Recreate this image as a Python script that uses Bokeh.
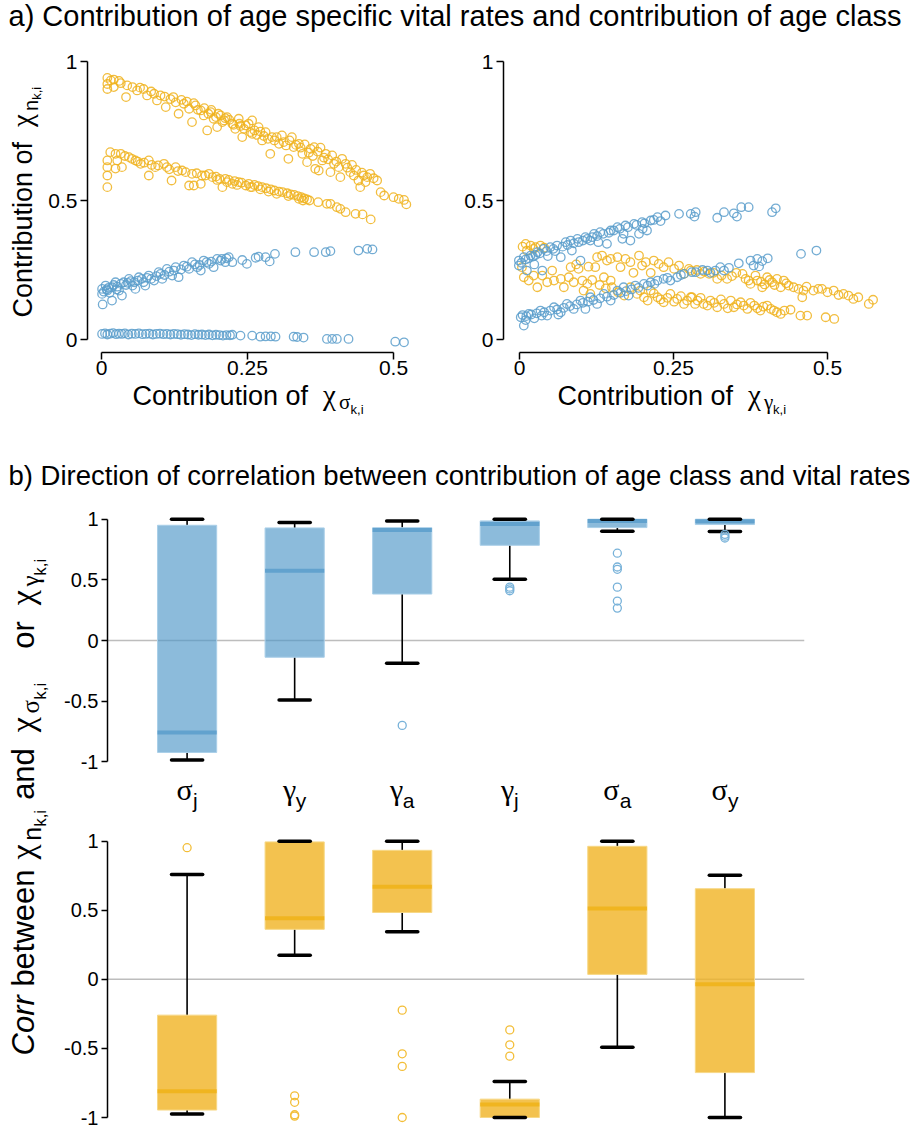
import math
from bokeh.plotting import figure
from bokeh.models import Range1d, FixedTicker, Label
from bokeh.layouts import column, row
from bokeh.embed import file_html
from bokeh.resources import INLINE

# ---------------------------------------------------------------------------
# Panel a: contribution of each vital rate (x) vs contribution of age class (y)
# ---------------------------------------------------------------------------
sigma_gold_upper = [
    (0.010, 0.941), (0.021, 0.935), (0.010, 0.919), (0.010, 0.901), (0.033, 0.922), (0.021, 0.908),
    (0.044, 0.914), (0.053, 0.908), (0.042, 0.872), (0.061, 0.896), (0.072, 0.901), (0.078, 0.878),
    (0.090, 0.884), (0.101, 0.878), (0.110, 0.836), (0.095, 0.860), (0.118, 0.865), (0.127, 0.853),
    (0.132, 0.812), (0.141, 0.848), (0.150, 0.830), (0.155, 0.782), (0.161, 0.842), (0.170, 0.824),
    (0.175, 0.806), (0.181, 0.752), (0.187, 0.818), (0.192, 0.794), (0.198, 0.764), (0.204, 0.806),
    (0.210, 0.788), (0.215, 0.800), (0.224, 0.776), (0.229, 0.758), (0.235, 0.794), (0.241, 0.728),
    (0.247, 0.770), (0.255, 0.746), (0.258, 0.788), (0.252, 0.776), (0.258, 0.740), (0.269, 0.764),
    (0.275, 0.716), (0.281, 0.746), (0.289, 0.668), (0.292, 0.728), (0.304, 0.704), (0.309, 0.734),
    (0.320, 0.650), (0.326, 0.728), (0.329, 0.692), (0.338, 0.704), (0.344, 0.668), (0.352, 0.638),
    (0.358, 0.686), (0.364, 0.692), (0.366, 0.614), (0.372, 0.608), (0.378, 0.644), (0.384, 0.668),
    (0.392, 0.602), (0.398, 0.632), (0.406, 0.620), (0.409, 0.584), (0.418, 0.632), (0.426, 0.602),
    (0.432, 0.590), (0.440, 0.572), (0.443, 0.548), (0.449, 0.590), (0.452, 0.566), (0.472, 0.572),
    (0.478, 0.530), (0.484, 0.518), (0.500, 0.512), (0.509, 0.506), (0.518, 0.502), (0.522, 0.486),
    (0.165, 0.826), (0.183, 0.812), (0.196, 0.800), (0.207, 0.782), (0.219, 0.790), (0.226, 0.772),
    (0.238, 0.768), (0.244, 0.758), (0.262, 0.752), (0.266, 0.736), (0.272, 0.748), (0.278, 0.732),
    (0.285, 0.722), (0.296, 0.716), (0.300, 0.728), (0.312, 0.710), (0.316, 0.698), (0.322, 0.716),
    (0.333, 0.700), (0.341, 0.690), (0.348, 0.702), (0.355, 0.672), (0.362, 0.660), (0.370, 0.676),
    (0.375, 0.690), (0.381, 0.654), (0.388, 0.648), (0.395, 0.662), (0.402, 0.640), (0.412, 0.650),
    (0.421, 0.618), (0.429, 0.628), (0.436, 0.610), (0.446, 0.600), (0.455, 0.584), (0.460, 0.596),
    (0.466, 0.580), (0.236, 0.776), (0.212, 0.796), (0.200, 0.812), (0.188, 0.826), (0.176, 0.832),
    (0.158, 0.850), (0.146, 0.856), (0.137, 0.862), (0.123, 0.872), (0.108, 0.874), (0.085, 0.892),
    (0.066, 0.906), (0.030, 0.930), (0.016, 0.932),
]

sigma_gold_lower = [
    (0.015, 0.674), (0.010, 0.644), (0.010, 0.620), (0.010, 0.590), (0.010, 0.548), (0.024, 0.668),
    (0.033, 0.668), (0.027, 0.644), (0.035, 0.620), (0.024, 0.615), (0.047, 0.656), (0.058, 0.644),
    (0.067, 0.632), (0.081, 0.644), (0.081, 0.590), (0.092, 0.620), (0.107, 0.632), (0.120, 0.572),
    (0.112, 0.620), (0.127, 0.620), (0.138, 0.608), (0.150, 0.554), (0.158, 0.554), (0.155, 0.596),
    (0.170, 0.560), (0.172, 0.590), (0.184, 0.596), (0.190, 0.584), (0.207, 0.548), (0.212, 0.578),
    (0.224, 0.560), (0.235, 0.566), (0.247, 0.554), (0.258, 0.548), (0.040, 0.660), (0.052, 0.650),
    (0.062, 0.640), (0.073, 0.636), (0.086, 0.628), (0.097, 0.626), (0.116, 0.612), (0.131, 0.606),
    (0.144, 0.602), (0.163, 0.598), (0.178, 0.590), (0.196, 0.586), (0.202, 0.578), (0.218, 0.574),
    (0.228, 0.570), (0.240, 0.564), (0.252, 0.560), (0.262, 0.556), (0.268, 0.552), (0.275, 0.548),
    (0.282, 0.544), (0.290, 0.540), (0.296, 0.536), (0.304, 0.532), (0.310, 0.530), (0.318, 0.526),
    (0.324, 0.522), (0.330, 0.520), (0.336, 0.516), (0.342, 0.512), (0.347, 0.508), (0.352, 0.504),
    (0.356, 0.500), (0.300, 0.524), (0.286, 0.532), (0.272, 0.540), (0.255, 0.548), (0.232, 0.556),
    (0.215, 0.566), (0.198, 0.574), (0.320, 0.516), (0.338, 0.506), (0.345, 0.500), (0.371, 0.494),
    (0.386, 0.488), (0.392, 0.488), (0.403, 0.476), (0.409, 0.470), (0.418, 0.458), (0.435, 0.452),
    (0.447, 0.450), (0.461, 0.432),
]

sigma_blue_upper = [
    (0.001, 0.182), (0.001, 0.164), (0.002, 0.126), (0.007, 0.194), (0.009, 0.180), (0.018, 0.188),
    (0.018, 0.140), (0.024, 0.206), (0.030, 0.176), (0.035, 0.158), (0.038, 0.206), (0.047, 0.218),
    (0.053, 0.194), (0.058, 0.182), (0.064, 0.224), (0.075, 0.194), (0.081, 0.230), (0.090, 0.212),
    (0.098, 0.242), (0.104, 0.218), (0.112, 0.254), (0.121, 0.230), (0.127, 0.260), (0.132, 0.224),
    (0.141, 0.266), (0.150, 0.254), (0.155, 0.278), (0.164, 0.260), (0.170, 0.248), (0.175, 0.284),
    (0.184, 0.272), (0.192, 0.260), (0.198, 0.290), (0.204, 0.284), (0.212, 0.278), (0.218, 0.296),
    (0.224, 0.278), (0.241, 0.286), (0.249, 0.272), (0.264, 0.294), (0.269, 0.298), (0.281, 0.296),
    (0.288, 0.281), (0.297, 0.308), (0.332, 0.314), (0.364, 0.314), (0.384, 0.314), (0.392, 0.318),
    (0.440, 0.320), (0.455, 0.326), (0.464, 0.324), (0.004, 0.172), (0.012, 0.186), (0.014, 0.168),
    (0.021, 0.196), (0.027, 0.190), (0.033, 0.200), (0.042, 0.196), (0.050, 0.210), (0.056, 0.206),
    (0.062, 0.212), (0.069, 0.218), (0.072, 0.206), (0.078, 0.222), (0.085, 0.218), (0.094, 0.228),
    (0.101, 0.236), (0.108, 0.232), (0.116, 0.244), (0.124, 0.248), (0.136, 0.252), (0.146, 0.262),
    (0.160, 0.270), (0.168, 0.268), (0.180, 0.278), (0.188, 0.280), (0.206, 0.290), (0.214, 0.292),
    (0.010, 0.176), (0.026, 0.180), (0.045, 0.204),
]

sigma_blue_lower = [
    (0.001, 0.020), (0.006, 0.022), (0.010, 0.018), (0.015, 0.021), (0.020, 0.023), (0.025, 0.019),
    (0.030, 0.021), (0.035, 0.020), (0.040, 0.022), (0.046, 0.018), (0.052, 0.021), (0.058, 0.020),
    (0.064, 0.022), (0.070, 0.019), (0.076, 0.020), (0.082, 0.021), (0.088, 0.018), (0.094, 0.020),
    (0.100, 0.021), (0.106, 0.019), (0.112, 0.020), (0.118, 0.018), (0.124, 0.020), (0.130, 0.019),
    (0.136, 0.017), (0.142, 0.019), (0.148, 0.018), (0.154, 0.016), (0.160, 0.019), (0.166, 0.017),
    (0.172, 0.018), (0.178, 0.016), (0.184, 0.018), (0.190, 0.015), (0.196, 0.017), (0.202, 0.016),
    (0.208, 0.014), (0.214, 0.016), (0.220, 0.015), (0.224, 0.017), (0.238, 0.014), (0.258, 0.014),
    (0.272, 0.010), (0.281, 0.011), (0.290, 0.011), (0.298, 0.010), (0.329, 0.010), (0.335, 0.009),
    (0.346, 0.007), (0.386, 0.002), (0.395, 0.002), (0.403, 0.002), (0.423, 0.002), (0.503, -0.008),
    (0.518, -0.010),
]

gamma_blue_upper = [
    (-0.001, 0.284), (-0.001, 0.266), (0.007, 0.296), (0.018, 0.302), (0.012, 0.248), (0.029, 0.314),
    (0.037, 0.248), (0.039, 0.326), (0.050, 0.332), (0.061, 0.338), (0.067, 0.296), (0.075, 0.350),
    (0.083, 0.356), (0.094, 0.362), (0.099, 0.284), (0.107, 0.368), (0.115, 0.356), (0.121, 0.380),
    (0.131, 0.386), (0.142, 0.344), (0.148, 0.392), (0.159, 0.404), (0.167, 0.362), (0.172, 0.410),
    (0.180, 0.356), (0.186, 0.416), (0.194, 0.380), (0.199, 0.422), (0.207, 0.392), (0.213, 0.428),
    (0.224, 0.440), (0.237, 0.446), (0.259, 0.452), (0.278, 0.452), (0.286, 0.458), (0.284, 0.442),
    (0.321, 0.438), (0.332, 0.458), (0.348, 0.454), (0.353, 0.442), (0.360, 0.476), (0.372, 0.476),
    (0.410, 0.458), (0.416, 0.472), (0.003, 0.276), (0.010, 0.288), (0.015, 0.292), (0.022, 0.298),
    (0.026, 0.304), (0.033, 0.310), (0.044, 0.318), (0.055, 0.326), (0.058, 0.318), (0.070, 0.334),
    (0.078, 0.340), (0.088, 0.346), (0.096, 0.350), (0.103, 0.356), (0.110, 0.362), (0.118, 0.368),
    (0.126, 0.372), (0.136, 0.380), (0.145, 0.384), (0.153, 0.392), (0.163, 0.398), (0.176, 0.404),
    (0.190, 0.412), (0.203, 0.418), (0.218, 0.430), (0.229, 0.426), (0.046, 0.300), (0.085, 0.320),
    (0.128, 0.350), (0.169, 0.380), (0.200, 0.398), (0.024, 0.270),
]

gamma_blue_lower = [
    (0.002, 0.080), (0.007, 0.050), (0.015, 0.092), (0.024, 0.076), (0.034, 0.104), (0.045, 0.086),
    (0.056, 0.116), (0.067, 0.098), (0.077, 0.128), (0.088, 0.110), (0.099, 0.140), (0.107, 0.110),
    (0.115, 0.152), (0.126, 0.128), (0.137, 0.164), (0.148, 0.140), (0.159, 0.176), (0.169, 0.188),
    (0.177, 0.158), (0.188, 0.194), (0.202, 0.200), (0.213, 0.206), (0.224, 0.212), (0.234, 0.218),
    (0.245, 0.212), (0.256, 0.224), (0.267, 0.236), (0.280, 0.242), (0.286, 0.242), (0.305, 0.248),
    (0.318, 0.248), (0.326, 0.260), (0.332, 0.248), (0.356, 0.274), (0.375, 0.284), (0.380, 0.266),
    (0.386, 0.290), (0.389, 0.263), (0.394, 0.282), (0.403, 0.292), (0.457, 0.308), (0.482, 0.320),
    (0.005, 0.088), (0.011, 0.084), (0.019, 0.090), (0.028, 0.094), (0.040, 0.098), (0.050, 0.104),
    (0.061, 0.108), (0.072, 0.114), (0.082, 0.120), (0.093, 0.126), (0.103, 0.132), (0.111, 0.136),
    (0.120, 0.142), (0.131, 0.148), (0.142, 0.154), (0.153, 0.160), (0.164, 0.168), (0.173, 0.174),
    (0.182, 0.180), (0.193, 0.186), (0.208, 0.194), (0.219, 0.200), (0.240, 0.222), (0.262, 0.232),
    (0.297, 0.250), (0.310, 0.240), (0.340, 0.258), (0.010, 0.070), (0.036, 0.086), (0.063, 0.090),
]

gamma_gold_upper = [
    (0.010, 0.344), (0.018, 0.338), (0.026, 0.332), (0.034, 0.338), (0.012, 0.320), (0.126, 0.296),
    (0.134, 0.302), (0.142, 0.284), (0.159, 0.296), (0.164, 0.260), (0.172, 0.290), (0.180, 0.278),
    (0.185, 0.240), (0.194, 0.302), (0.199, 0.266), (0.205, 0.278), (0.213, 0.240), (0.218, 0.284),
    (0.226, 0.272), (0.234, 0.260), (0.242, 0.278), (0.251, 0.254), (0.259, 0.266), (0.267, 0.236),
    (0.275, 0.254), (0.278, 0.248), (0.294, 0.236), (0.308, 0.236), (0.321, 0.218), (0.337, 0.218),
    (0.362, 0.236), (0.367, 0.218), (0.372, 0.212), (0.375, 0.200), (0.383, 0.230), (0.386, 0.212),
    (0.394, 0.188), (0.402, 0.224), (0.410, 0.206), (0.418, 0.218), (0.424, 0.188), (0.429, 0.212),
    (0.437, 0.194), (0.445, 0.188), (0.453, 0.182), (0.461, 0.176), (0.459, 0.152), (0.477, 0.176),
    (0.485, 0.182), (0.491, 0.182), (0.510, 0.176), (0.526, 0.164), (0.534, 0.158), (0.542, 0.146),
    (0.550, 0.152), (0.567, 0.128), (0.574, 0.143), (0.040, 0.330), (0.023, 0.326), (0.005, 0.334),
    (0.288, 0.250), (0.300, 0.244), (0.315, 0.240), (0.328, 0.230), (0.345, 0.228), (0.352, 0.240),
    (0.392, 0.208), (0.398, 0.198), (0.406, 0.214), (0.414, 0.196), (0.433, 0.202), (0.466, 0.190),
    (0.500, 0.170), (0.518, 0.160), (0.148, 0.290), (0.112, 0.262), (0.092, 0.270),
]

gamma_gold_lower = [
    (0.004, 0.260), (0.007, 0.224), (0.015, 0.212), (0.023, 0.230), (0.029, 0.188), (0.037, 0.230),
    (0.045, 0.206), (0.053, 0.248), (0.056, 0.212), (0.067, 0.218), (0.072, 0.188), (0.083, 0.260),
    (0.080, 0.224), (0.088, 0.206), (0.096, 0.254), (0.102, 0.212), (0.104, 0.176), (0.110, 0.200),
    (0.115, 0.164), (0.123, 0.260), (0.137, 0.224), (0.148, 0.212), (0.150, 0.188), (0.180, 0.188),
    (0.191, 0.164), (0.202, 0.152), (0.213, 0.176), (0.224, 0.152), (0.234, 0.134), (0.245, 0.164),
    (0.256, 0.146), (0.267, 0.128), (0.278, 0.152), (0.280, 0.152), (0.289, 0.140), (0.299, 0.128),
    (0.310, 0.140), (0.321, 0.116), (0.332, 0.128), (0.343, 0.140), (0.348, 0.116), (0.359, 0.134),
    (0.370, 0.110), (0.381, 0.122), (0.391, 0.104), (0.402, 0.122), (0.413, 0.104), (0.424, 0.092),
    (0.440, 0.107), (0.456, 0.086), (0.467, 0.086), (0.497, 0.080), (0.511, 0.074), (0.160, 0.170),
    (0.170, 0.158), (0.196, 0.176), (0.208, 0.140), (0.218, 0.166), (0.229, 0.144), (0.240, 0.150),
    (0.251, 0.136), (0.262, 0.156), (0.272, 0.140), (0.285, 0.128), (0.294, 0.150), (0.305, 0.122),
    (0.316, 0.132), (0.327, 0.144), (0.338, 0.112), (0.353, 0.126), (0.364, 0.122), (0.375, 0.132),
    (0.386, 0.112), (0.396, 0.118), (0.408, 0.110), (0.418, 0.098), (0.430, 0.104), (0.118, 0.214),
    (0.130, 0.196), (0.140, 0.184),
]

# ---------------------------------------------------------------------------
# Panel b: correlation summaries (whisker low, Q1, median, Q3, whisker high)
# ---------------------------------------------------------------------------
rate_symbol = ["σ", "γ", "γ", "γ", "σ", "σ"]
rate_index = ["j", "y", "a", "j", "a", "y"]

blue_low = [-0.986, -0.490, -0.187, 0.504, 0.900, 0.898]
blue_q1 = [-0.923, -0.138, 0.383, 0.785, 0.931, 0.956]
blue_med = [-0.758, 0.576, 0.910, 0.961, 0.985, 0.984]
blue_q3 = [0.950, 0.928, 0.930, 0.986, 1.000, 1.000]
blue_high = [1.000, 0.973, 0.986, 1.000, 1.000, 1.000]
blue_out = [[], [], [-0.700], [0.440, 0.425, 0.410],
            [0.720, 0.606, 0.587, 0.440, 0.325, 0.267], [0.875, 0.860, 0.845]]

gold_low = [-0.975, 0.175, 0.345, -1.000, -0.491, -1.000]
gold_q1 = [-0.946, 0.362, 0.484, -1.000, 0.036, -0.675]
gold_med = [-0.810, 0.443, 0.670, -0.905, 0.512, -0.036]
gold_q3 = [-0.259, 0.995, 0.934, -0.867, 0.963, 0.656]
gold_high = [0.759, 1.000, 1.000, -0.740, 1.000, 0.754]
gold_out = [[0.953], [-0.843, -0.890, -0.980, -0.990], [-0.223, -0.539, -0.630, -1.000],
            [-0.366, -0.474, -0.556], [], []]

# ---------------------------------------------------------------------------
SANS = "Liberation Sans"
SERIF = "Liberation Serif"
GOLD = "#F0B31E"
BLUE = "#5A9ECB"
# labels are anchored on their baseline; this lifts the drawn box onto it
BASELINE_LIFT = 0.35

SANS_W = {'C': 722, 'o': 556, 'n': 556, 't': 278, 'r': 333, 'i': 222, 'b': 556, 'u': 556,
          ' ': 278, 'f': 278, 'e': 556, 'w': 722, 'a': 556, 'd': 556, 'k': 500, ',': 278,
          'j': 222, 'y': 500}
GREEK_W = {'χ': 549, 'σ': 549, 'γ': 430, ' ': 250}


def text_w(s, size, font):
    table = GREEK_W if font == SERIF else SANS_W
    return sum(table.get(c, 556) for c in s) * size / 1000.0


def base_fig(w, h, xr, yr, left=0, right=0, top=0, bottom=0, xaxis=None, yaxis=None):
    p = figure(width=w, height=h, x_range=xr if isinstance(xr, Range1d) else Range1d(*xr),
               y_range=Range1d(*yr), output_backend="svg", toolbar_location=None,
               min_border_left=left, min_border_right=right,
               min_border_top=top, min_border_bottom=bottom,
               x_axis_location=xaxis, y_axis_location=yaxis)
    p.grid.visible = False
    p.outline_line_color = None
    p.background_fill_color = "white"
    p.border_fill_color = "white"
    return p


def style_axis(ax, ticks, labels, bounds, size, tick_out, standoff):
    ax.ticker = FixedTicker(ticks=ticks)
    ax.major_label_overrides = dict(zip(ticks, labels))
    ax.bounds = bounds
    ax.axis_line_color = "black"
    ax.axis_line_width = 1.5
    ax.major_tick_line_color = "black"
    ax.major_tick_line_width = 1.5
    ax.major_tick_out = tick_out
    ax.major_tick_in = 0
    ax.minor_tick_line_color = None
    ax.major_label_text_font = SANS
    ax.major_label_text_font_size = f"{size}px"
    ax.major_label_text_color = "black"
    ax.major_label_standoff = standoff


def frame_conv(L, R, T, B, xr, yr):
    def conv(px, py):
        return (xr[0] + (px - L) / (R - L) * (xr[1] - xr[0]),
                yr[1] - (py - T) / (B - T) * (yr[1] - yr[0]))
    return conv


def page_conv(px, py):
    return px, py


def put(p, conv, px, py, text, size, font=SANS, style="normal", angle=0.0):
    if angle:
        px -= BASELINE_LIFT * size
    else:
        py -= BASELINE_LIFT * size
    x, y = conv(px, py)
    p.add_layout(Label(x=x, y=y, text=text, text_font=font, text_font_size=f"{size}px",
                       text_font_style=style, angle=angle, text_align="left",
                       text_baseline="alphabetic", text_color="black"))


def compose(p, conv, start, base, pieces, vertical=False):
    pos = start
    for text, font, size, style, shift in pieces:
        w = text_w(text, size, font)
        if text.strip():
            if vertical:
                put(p, conv, base + shift, pos, text, size, font, style, angle=math.pi / 2)
            else:
                put(p, conv, pos, base + shift, text, size, font, style)
        pos = pos - w if vertical else pos + w
    return pos


def gap(px):
    # blank advance of the given number of pixels
    return (" ", SANS, px / 0.278, "normal", 0)


def chi_group(sub, sub_font, main, chi, s1, s2, d1, d2):
    return [(" ", SANS, main, "normal", 0), (" ", SANS, main, "normal", 0),
            ("χ", SERIF, chi, "normal", 0), (sub, sub_font, s1, "normal", d1),
            ("k,i", SANS, s2, "normal", d2)]


# ---------------------------------------------------------------- title a
tA = base_fig(917, 40, (0, 917), (40, 0))
put(tA, page_conv, 8, 26, "a) Contribution of age specific vital rates and contribution of age class", 29)

# ---------------------------------------------------------------- scatter panels
Y_A = ((339 - 352) / 278, (339 - 50) / 278)
XR_A1 = ((87 - 101) / 584, (440 - 101) / 584)
XR_A2 = ((503 - 519) / 616, (900 - 519) / 616)

yA = base_fig(45, 344, (0, 45), (352, 50), top=10, bottom=32)
fA1 = base_fig(415, 344, XR_A1, Y_A, 42, 20, 10, 32, xaxis="below", yaxis="left")
fA2 = base_fig(457, 344, XR_A2, Y_A, 43, 17, 10, 32, xaxis="below", yaxis="left")

for p in (fA1, fA2):
    style_axis(p.xaxis[0], [0, 0.25, 0.5], ["0", "0.25", "0.5"], (0, 0.5), 21, 7, 1)
    style_axis(p.yaxis[0], [0, 0.5, 1], ["0", "0.5", "1"], (0, 1), 21, 7, 3)


def dots(p, pts, color):
    p.scatter([a for a, _ in pts], [b for _, b in pts], marker="circle", size=8.5,
              fill_color=None, line_color=color, line_width=1.3, line_alpha=0.85)


dots(fA1, sigma_gold_upper, GOLD)
dots(fA1, sigma_gold_lower, GOLD)
dots(fA1, sigma_blue_upper, BLUE)
dots(fA1, sigma_blue_lower, BLUE)
dots(fA2, gamma_gold_upper, GOLD)
dots(fA2, gamma_gold_lower, GOLD)
dots(fA2, gamma_blue_upper, BLUE)
dots(fA2, gamma_blue_lower, BLUE)

compose(yA, page_conv, 317, 32,
        [("Contribution of", SANS, 27, "normal", 0)] + chi_group("n", SANS, 27, 29, 20, 13, 5, 9),
        vertical=True)

# x-axis titles of the scatter panels; the strip is transparent and tucked
# slightly under the tick labels so the titles sit close to the axes
xA = base_fig(917, 82, (0, 917), (460, 378))
xA.background_fill_alpha = 0
xA.border_fill_alpha = 0
compose(xA, page_conv, 132, 405,
        [("Contribution of", SANS, 27, "normal", 0)] + chi_group("σ", SERIF, 27, 29, 21, 13, 4, 9))
compose(xA, page_conv, 557, 405,
        [("Contribution of", SANS, 27, "normal", 0)] + chi_group("γ", SERIF, 27, 29, 21, 13, 4, 9))

# ---------------------------------------------------------------- title b
tB = base_fig(917, 40, (0, 917), (500, 460))
put(tB, page_conv, 8, 485, "b) Direction of correlation between contribution of age class and vital rates", 27.5)

# ---------------------------------------------------------------- box panels
XR_B = Range1d(0.26, 6.74)
YR_B1 = (-1.08, 1.08)
B2_UNIT = (1117 - 840.7) / 2          # pixels per correlation unit in the lower panel
B2_ZERO = (1117 + 840.7) / 2
YR_B2 = ((B2_ZERO - 1127) / B2_UNIT, (B2_ZERO - 830) / B2_UNIT)

fB1 = base_fig(857, 273, XR_B, YR_B1, 47, 113, 9, 2, yaxis="left")
cat = base_fig(857, 55, XR_B, (828, 773), 47, 113, 0, 0)
fB2 = base_fig(857, 301, XR_B, YR_B2, 47, 113, 2, 2, yaxis="left")

for p in (fB1, fB2):
    style_axis(p.yaxis[0], [-1, -0.5, 0, 0.5, 1], ["-1", "-0.5", "0", "0.5", "1"], (-1, 1), 20, 6, 3)

positions = list(range(1, len(rate_symbol) + 1))
BOX_W = 0.55
CAP_W = 0.29


def boxes(p, low, q1, med, q3, high, outl, fill, alpha, edge, med_col, out_col):
    p.segment(x0=[XR_B.start], x1=[XR_B.end], y0=[0], y1=[0], line_color="#BDBDBD", line_width=1.5)
    p.segment(x0=positions, x1=positions, y0=q3, y1=high, line_color="black", line_width=1.6)
    p.segment(x0=positions, x1=positions, y0=low, y1=q1, line_color="black", line_width=1.6)
    p.vbar(x=positions, width=BOX_W, bottom=q1, top=q3, fill_color=fill, fill_alpha=alpha,
           line_color=edge, line_width=1)
    p.segment(x0=[x - BOX_W / 2 for x in positions], x1=[x + BOX_W / 2 for x in positions],
              y0=med, y1=med, line_color=med_col, line_width=4)
    for ends in (low, high):
        p.segment(x0=[x - CAP_W / 2 for x in positions], x1=[x + CAP_W / 2 for x in positions],
                  y0=ends, y1=ends, line_color="black", line_width=3.5, line_cap="round")
    ox = [x for x, vals in zip(positions, outl) for _ in vals]
    oy = [v for vals in outl for v in vals]
    p.scatter(ox, oy, marker="circle", size=8, fill_color=None, line_color=out_col, line_width=1.3)


boxes(fB1, blue_low, blue_q1, blue_med, blue_q3, blue_high, blue_out,
      "#4F97C7", 0.65, "#AACFE8", "#62A2CE", "#78B2D9")
boxes(fB2, gold_low, gold_q1, gold_med, gold_q3, gold_high, gold_out,
      "#F0B323", 0.8, "#F7D886", "#F0B520", "#F3BE38")

# category labels between the two box panels
conv_cat = frame_conv(107, 804, 773, 828, (XR_B.start, XR_B.end), (773, 828))
for pos, sym, idx in zip(positions, rate_symbol, rate_index):
    cx = 107 + (pos - XR_B.start) / (XR_B.end - XR_B.start) * (804 - 107)
    w = text_w(sym, 30, SERIF) + text_w(idx, 21, SANS)
    compose(cat, lambda px, py: (conv_cat(px, 0)[0], py), cx - w / 2, 799,
            [(sym, SERIF, 30, "normal", 0), (idx, SANS, 21, "normal", 8)])

# shared y-axis title of the box panels, read from the bottom upwards
yB = base_fig(60, 629, (0, 60), (1129, 500))
compose(yB, page_conv, 1055, 34,
        [("Corr", SANS, 31, "italic", 0), (" ", SANS, 31, "normal", 0),
         ("between", SANS, 31, "normal", 0), gap(10),
         ("χ", SERIF, 34, "normal", 0), ("n", SANS, 25, "normal", 6), ("k,i", SANS, 17, "normal", 12),
         gap(10), ("and", SANS, 31, "normal", 0), gap(16),
         ("χ", SERIF, 34, "normal", 0), ("σ", SERIF, 25, "normal", 5), ("k,i", SANS, 17, "normal", 12),
         gap(34), ("or", SANS, 31, "normal", 0), gap(16),
         ("χ", SERIF, 34, "normal", 0), ("γ", SERIF, 25, "normal", 5), ("k,i", SANS, 17, "normal", 12)],
        vertical=True)

page = column(row(tA), row(yA, fA1, fA2), row(xA, margin=(-6, 0, 0, 0)), row(tB),
              row(yB, column(fB1, cat, fB2)))
open("out.html", "w").write(file_html(page, INLINE))
